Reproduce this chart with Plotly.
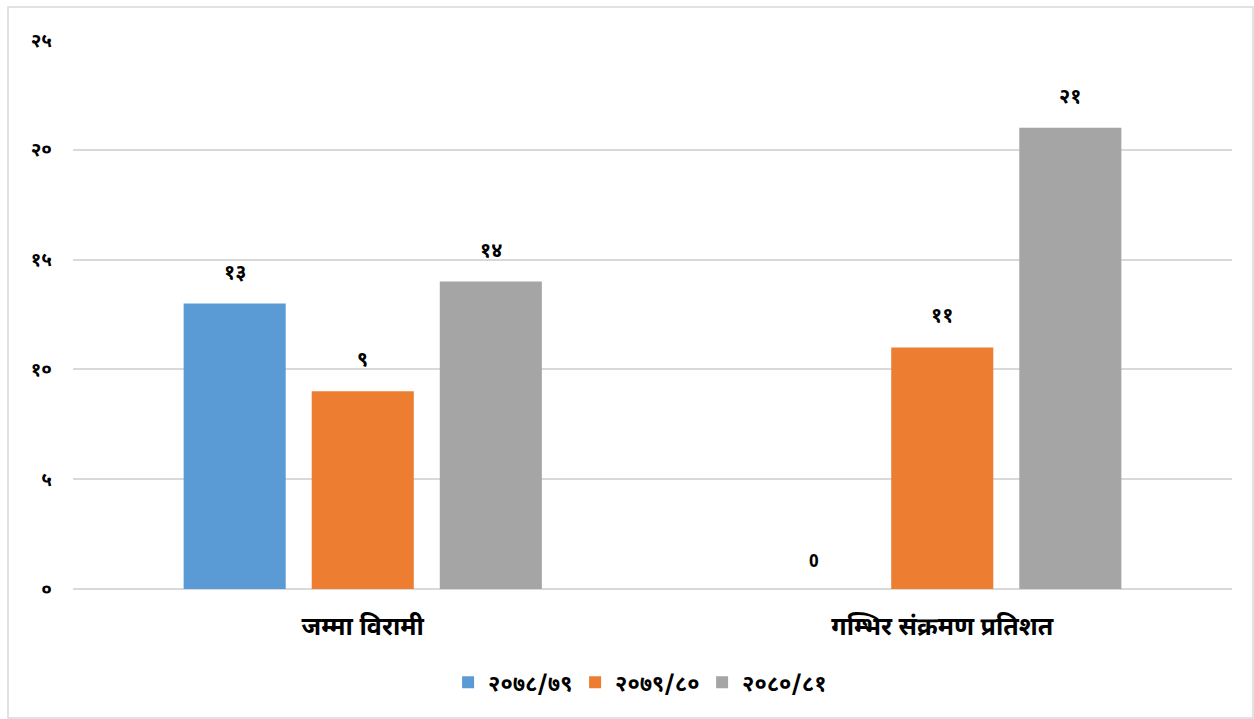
import plotly.graph_objects as go

# Categories and yearly series
categories = ["जम्मा विरामी", "गम्भिर संक्रमण प्रतिशत"]
series_names = ["२०७८/७९", "२०७९/८०", "२०८०/८१"]
values_2078_79 = [13, 0]
values_2079_80 = [9, 11]
values_2080_81 = [14, 21]
y_tick_values = [0, 5, 10, 15, 20, 25]

colors = ["#5b9bd5", "#ed7d31", "#a5a5a5"]
series_values = [values_2078_79, values_2079_80, values_2080_81]

DEVA = str.maketrans("0123456789", "०१२३४५६७८९")


def to_deva(v):
    return str(v).translate(DEVA)


def label_for(v):
    return "0" if v == 0 else to_deva(v)


FONT = "Noto Sans Devanagari, Mangal, Noto Sans, DejaVu Sans, sans-serif"

W, H = 1254, 719
ML, MR, MT, MB = 73, 22, 40, 130
plot_w = W - ML - MR
plot_h = H - MT - MB

fig = go.Figure()
for name, vals, col in zip(series_names, series_values, colors):
    fig.add_trace(go.Bar(
        name="<b>%s</b>" % name, x=categories, y=vals,
        marker=dict(color=col, line=dict(width=0)),
        hoverinfo="skip",
    ))

# Value labels above each bar
slot_px = plot_w / len(categories) * (1 - 0.337) / len(series_names)
for si, vals in enumerate(series_values):
    for ci, v in enumerate(vals):
        fig.add_annotation(
            x=categories[ci], y=v, xref="x", yref="y",
            text="<b>%s</b>" % label_for(v), showarrow=False,
            xshift=(si - 1) * slot_px, yshift=30 if v else 26,
            font=dict(family=FONT, size=20 if v else 17, color="#000000"),
        )

# Outer chart border
fig.add_shape(
    type="rect", xref="paper", yref="paper",
    x0=(8 - ML) / plot_w, x1=(W - 1 - ML) / plot_w,
    y0=(H - 1 - (H - MB)) / -plot_h, y1=(MT - 7) / plot_h + 1,
    line=dict(color="#d9d9d9", width=1.5), layer="below",
)

fig.update_layout(
    width=W, height=H,
    margin=dict(l=ML, r=MR, t=MT, b=MB, autoexpand=False),
    paper_bgcolor="white", plot_bgcolor="white",
    barmode="group", bargap=0.337, bargroupgap=0.203,
    font=dict(family=FONT, color="#000000"),
    showlegend=True,
    legend=dict(
        orientation="h", x=0.488, xanchor="center", y=-0.17, yanchor="middle",
        font=dict(family=FONT, size=22, color="#000000"),
        itemsizing="constant", traceorder="normal",
        entrywidth=82,
    ),
    xaxis=dict(
        showgrid=False, showline=False, zeroline=False,
        tickfont=dict(family=FONT, size=25, color="#000000"),
        ticks="", ticklabelstandoff=20,
        tickvals=categories, ticktext=["<b>%s</b>" % c for c in categories],
    ),
    yaxis=dict(
        range=[0, 25], showgrid=True, gridcolor="#d9d9d9", gridwidth=1.5,
        zeroline=True, zerolinecolor="#d9d9d9", zerolinewidth=1.5,
        tickvals=y_tick_values,
        ticktext=["<b>%s</b>" % to_deva(v) for v in y_tick_values],
        tickfont=dict(family=FONT, size=19, color="#000000"),
        ticks="", ticklabelstandoff=20,
    ),
)

fig.write_html("out.html")
